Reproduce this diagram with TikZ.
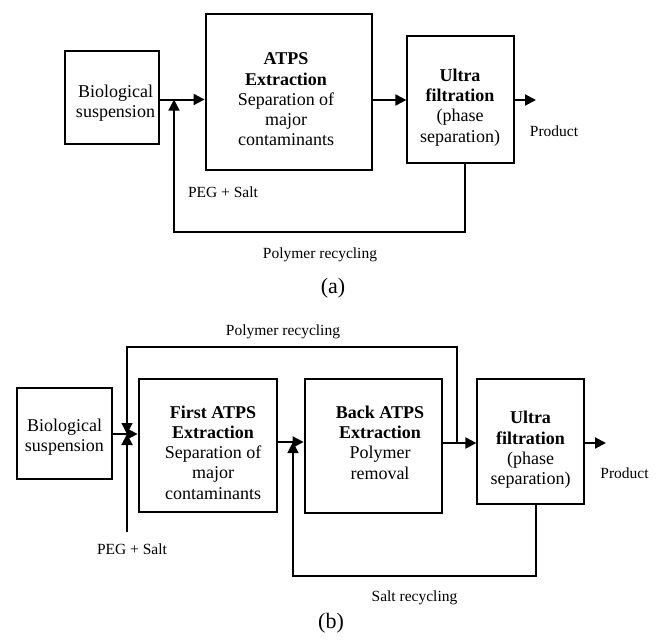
\documentclass[tikz,border=0pt]{standalone}
\usepackage{fontspec}
\setmainfont{Liberation Serif}
\usetikzlibrary{arrows.meta}
\begin{document}
\begin{tikzpicture}[x=1pt,y=-1pt,
  thinbox/.style={draw, line width=1.2pt, inner sep=0pt},
  thickbox/.style={draw, line width=2.8pt, inner sep=0pt},
  boxtext/.style={align=center, font=\fontsize{18}{20.3}\selectfont, inner sep=0pt},
  lbl/.style={font=\fontsize{15.5}{18}\selectfont, inner sep=0pt},
  captxt/.style={font=\fontsize{22}{24}\selectfont, inner sep=0pt},
  flow/.style={line width=2pt},
  thinflow/.style={line width=1.2pt},
  tip/.style={-{Triangle[length=11pt,width=11pt]}},
]
\useasboundingbox (0,0) rectangle (659,640);

% ---------- (a) ----------
\node[thinbox, minimum width=94pt, minimum height=93pt] (bioA) at (112,97.5) {};
\node[thickbox, minimum width=166pt, minimum height=156pt] (atpsA) at (289,92) {};
\node[thinbox, minimum width=107pt, minimum height=127pt] (ufA) at (460.5,99.5) {};

\node[boxtext] (bioAt) at (115.5,103.5) {Biological\\suspension};
\node[boxtext] (atpsAt) at (286,99.5) {\textbf{ATPS}\\\textbf{Extraction}\\Separation of\\major\\contaminants};
\node[boxtext] (ufAt) at (460,107.5) {\textbf{Ultra}\\\textbf{filtration}\\(phase\\separation)};

\coordinate (jA) at (174,99.5);
\coordinate (prodA) at (536,100);
\coordinate (fbA) at (465,232);
\draw[flow] (bioA.east |- jA) -- (jA);
\draw[flow, tip] (jA) -- (atpsA.west |- jA);
\draw[flow, tip] (atpsA.east |- prodA) -- (ufA.west |- prodA);
\draw[flow, tip] (ufA.east |- prodA) -- (prodA);
\draw[thinflow, tip] (ufA.south -| fbA) -- (fbA) -- (fbA -| jA) -- (jA);

\node[lbl] (prodAt) at (554,131) {Product};
\node[lbl] (pegAt) at (223,192) {PEG + Salt};
\node[lbl] (polyAt) at (320,255) {Polymer recycling};
\node[captxt] (capA) at (333,288) {(a)};

% ---------- (b) ----------
\node[thinbox, minimum width=95pt, minimum height=91pt] (bioB) at (64.5,433.5) {};
\node[thickbox, minimum width=138pt, minimum height=133pt] (firstB) at (208,445.5) {};
\node[thickbox, minimum width=137pt, minimum height=134pt] (backB) at (373.5,446) {};
\node[thinbox, minimum width=107pt, minimum height=125pt] (ufB) at (530.5,441.5) {};

\node[boxtext] (bioBt) at (64.5,437.5) {Biological\\suspension};
\node[boxtext] (firstBt) at (213,452.5) {\textbf{First ATPS}\\\textbf{Extraction}\\Separation of\\major\\contaminants};
\node[boxtext] (backBt) at (380,442.5) {\textbf{Back ATPS}\\\textbf{Extraction}\\Polymer\\removal};
\node[boxtext] (ufBt) at (530.5,450) {\textbf{Ultra}\\\textbf{filtration}\\(phase\\separation)};

\coordinate (jB1) at (127,434);
\coordinate (pegB) at (127,532);
\coordinate (brB) at (457,443);
\coordinate (topB) at (457,347);
\coordinate (jB2) at (293,442);
\coordinate (slB) at (536,576);
\coordinate (prodB) at (606,443);

\draw[flow] (bioB.east |- jB1) -- (jB1);
\draw[flow, tip] (jB1) -- (firstB.west |- jB1);
\draw[flow, tip] (pegB) -- (jB1);
\draw[thinflow, tip] (brB) -- (topB) -- (topB -| jB1) -- (jB1);
\draw[flow] (firstB.east |- jB2) -- (jB2);
\draw[flow, tip] (jB2) -- (backB.west |- jB2);
\draw[flow, tip] (backB.east |- brB) -- (ufB.west |- brB);
\draw[thinflow, tip] (ufB.south -| slB) -- (slB) -- (slB -| jB2) -- (jB2);
\draw[flow, tip] (ufB.east |- prodB) -- (prodB);

\node[lbl] (polyBt) at (283,332) {Polymer recycling};
\node[lbl] (pegBt) at (132,549) {PEG + Salt};
\node[lbl] (saltBt) at (414.5,598) {Salt recycling};
\node[lbl] (prodBt) at (624.5,473) {Product};
\node[captxt] (capB) at (331,623) {(b)};
\end{tikzpicture}
\end{document}
